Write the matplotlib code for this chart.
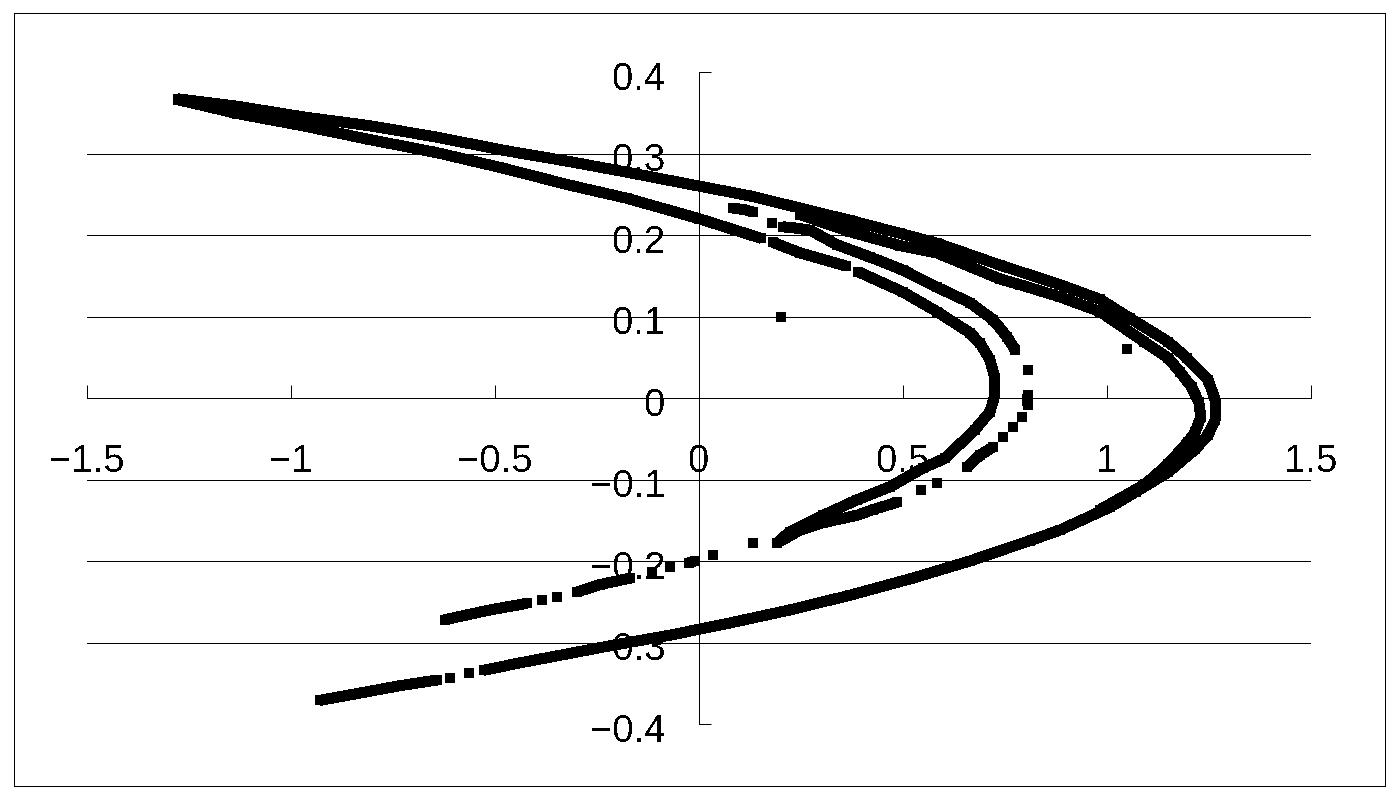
import matplotlib
matplotlib.use("Agg")
import matplotlib.pyplot as plt
from matplotlib.patches import Rectangle
from matplotlib.transforms import ScaledTranslation

plt.rcParams['font.family'] = ['Liberation Sans', 'DejaVu Sans']
plt.rcParams['text.antialiased'] = False

G = float('nan')

outer_x = [-1.277,-1.132,-0.971,-0.806,-0.642,-0.480,-0.316,-0.176,0,0.125,0.248,0.370,0.493,0.583,0.738,0.885,0.983,1.056,1.150,1.196,1.248,1.265,1.265,1.248,1.216,1.150,1.071,1.007,0.885,0.811,0.664,0.517,0.370,0.223,0.076,-0.071,-0.218,-0.365,-0.439,-0.527,G,-0.564,G,-0.610,G,-0.642,-0.733,-0.831,-0.929]
outer_y = [0.367,0.358,0.345,0.334,0.320,0.304,0.290,0.277,0.260,0.248,0.233,0.218,0.202,0.190,0.163,0.139,0.121,0.098,0.069,0.049,0.022,-0.002,-0.027,-0.045,-0.063,-0.091,-0.115,-0.134,-0.162,-0.175,-0.200,-0.222,-0.242,-0.260,-0.276,-0.291,-0.304,-0.318,-0.325,-0.334,G,-0.337,G,-0.344,G,-0.346,-0.353,-0.362,-0.371]

second_x = [0.248,0.370,0.493,0.583,0.738,0.787,0.885,0.983,1.091,1.150,1.179,1.208,1.225,1.230,1.216,1.198,1.150,1.093,0.983]
second_y = [0.225,0.204,0.187,0.178,0.146,0.139,0.124,0.106,0.069,0.049,0.032,0.013,-0.005,-0.023,-0.042,-0.054,-0.081,-0.106,-0.137]

middle_x = [0.083,0.113,0.132,G,0.179,G,0.206,0.230,0.272,0.338,0.419,0.500,0.583,0.664,0.721,0.755,0.775,G,0.806,G,0.806,0.806,G,0.792,G,0.770,G,0.745,G,0.721,0.689,0.657,G,0.583,G,0.544,G,0.485,0.426,0.387,0.304,0.248,0.191,G,0.132,G,0.034,G,-0.010,-0.025,G,-0.071,G,-0.115,G,-0.169,-0.243,-0.299,G,-0.348,G,-0.385,G,-0.422,-0.512,-0.623]
middle_y = [0.233,0.231,0.228,G,0.215,G,0.210,0.209,0.206,0.188,0.173,0.157,0.136,0.117,0.096,0.075,0.059,G,0.034,G,0.004,-0.009,G,-0.023,G,-0.036,G,-0.048,G,-0.060,-0.070,-0.085,G,-0.104,G,-0.113,G,-0.128,-0.137,-0.144,-0.153,-0.162,-0.178,G,-0.178,G,-0.193,G,-0.200,-0.202,G,-0.207,G,-0.213,G,-0.221,-0.229,-0.238,G,-0.244,G,-0.248,G,-0.252,-0.260,-0.272]

inner_x = [-1.277,-1.132,-0.971,-0.806,-0.642,-0.480,-0.316,-0.176,0,0.152,G,0.181,0.248,0.360,G,0.390,0.500,0.583,0.664,0.689,0.713,0.725,0.723,0.713,0.676,0.603,0.549,0.468,0.387,0.304,0.223,0.191]
inner_y = [0.366,0.349,0.334,0.317,0.301,0.282,0.261,0.245,0.220,0.196,G,0.191,0.178,0.162,G,0.155,0.130,0.106,0.080,0.067,0.047,0.025,0,-0.017,-0.039,-0.074,-0.086,-0.109,-0.125,-0.144,-0.164,-0.178]

stray_x = [0.2,1.05]
stray_y = [0.1,0.06]

x_ticks = [-1.5,-1,-0.5,0,0.5,1,1.5]
x_labels = ['\u22121.5','\u22121','\u22120.5','0','0.5','1','1.5']
y_ticks = [-0.4,-0.3,-0.2,-0.1,0,0.1,0.2,0.3,0.4]
y_labels = ['\u22120.4','\u22120.3','\u22120.2','\u22120.1','0','0.1','0.2','0.3','0.4']

W, H = 1400, 800
fig = plt.figure(figsize=(14, 8), dpi=100, facecolor='white')
fig.add_artist(Rectangle((14/W, 1-786/H), (1385-14)/W, (786-13)/H, transform=fig.transFigure,
                         fill=False, edgecolor='black', linewidth=0.72, antialiased=False))
ax = fig.add_axes([87/W, 1-724/H, (1311-87)/W, (724-72)/H])
ax.set_xlim(-1.5, 1.5)
ax.set_ylim(-0.4, 0.4)
ax.patch.set_alpha(0)

for s in ('top', 'right'):
    ax.spines[s].set_visible(False)
ax.spines['left'].set_position(('data', 0))
ax.spines['bottom'].set_position(('data', 0))
for s in ('left', 'bottom'):
    ax.spines[s].set_linewidth(0.72)
    ax.spines[s].set_antialiased(False)

ax.set_xticks(x_ticks, x_labels)
ax.set_yticks(y_ticks, y_labels)
ax.tick_params(axis='x', direction='in', length=9.4, width=0.72, labelsize=27.5, pad=33)
ax.tick_params(axis='y', direction='in', length=8.6, width=0.72, labelsize=27.5, pad=24)
ax.yaxis.grid(True, color='black', linewidth=0.72, antialiased=False)
for v, gl in zip(y_ticks, ax.get_ygridlines()):
    if abs(v) > 0.35 or v == 0:
        gl.set_visible(False)
shift_down = ScaledTranslation(0, -3.5/100, fig.dpi_scale_trans)
for lab in ax.get_yticklabels():
    lab.set_transform(lab.get_transform() + shift_down)

style = dict(color='black', linewidth=7.2, marker='s', markersize=6.6, markeredgewidth=0,
             solid_capstyle='butt', solid_joinstyle='round', antialiased=False, zorder=3)
ax.plot(outer_x, outer_y, **style)
ax.plot(second_x, second_y, **style)
ax.plot(middle_x, middle_y, **style)
ax.plot(inner_x, inner_y, **style)
ax.plot(stray_x, stray_y, linestyle='none', color='black', marker='s', markersize=6.6,
        markeredgewidth=0, antialiased=False, zorder=3)

fig.savefig('out.png', dpi=100)
